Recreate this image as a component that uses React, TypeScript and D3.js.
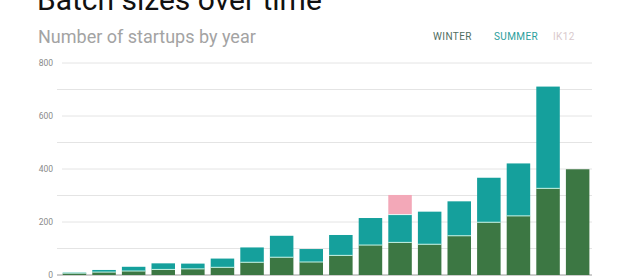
import React from "react";
import * as d3 from "d3";

// Startups per Y Combinator batch, by year
const years = [
  "2005", "2006", "2007", "2008", "2009", "2010", "2011", "2012", "2013",
  "2014", "2015", "2016", "2017", "2018", "2019", "2020", "2021", "2022",
];
const winter = [7, 11, 15, 21, 23, 29, 48, 67, 49, 74, 113, 123, 116, 148, 199, 223, 327, 399];
const summer = [2, 8, 16, 23, 20, 33, 56, 81, 49, 77, 102, 105, 123, 130, 168, 198, 384, 0];
const ik12 = [0, 0, 0, 0, 0, 0, 0, 0, 0, 0, 0, 74, 0, 0, 0, 0, 0, 0];

const yTicks = [0, 200, 400, 600, 800];
const gridValues = [100, 200, 300, 400, 500, 600, 700, 800];

const legendItems = [
  { label: "WINTER", color: "#4f6e5f" },
  { label: "SUMMER", color: "#2a9e9c" },
  { label: "IK12", color: "#d9c9cd" },
];

const W = 640;
const H = 279;
const FONT = "Roboto, 'Noto Sans', sans-serif";

const COLORS = {
  winter: "#3c7743",
  summer: "#15a09c",
  ik12: "#f3a8b8",
  divider: "#c4f2e3",
  grid: "#e4e4e4",
  tick: "#8a8a8a",
};

export default function App() {
  const x = d3
    .scaleBand<string>()
    .domain(years)
    .range([62.7, 589.4])
    .paddingInner(0.206)
    .paddingOuter(0);

  const y = d3.scaleLinear().domain([0, 800]).range([275, 63]);

  const rows = years.map((yr, i) => ({
    year: yr,
    w: winter[i],
    s: summer[i],
    k: ik12[i],
  }));

  return (
    <svg
      width={W}
      height={H}
      style={{ position: "fixed", left: 0, top: 0, background: "#fff" }}
      fontFamily={FONT}
    >
      <rect x={0} y={0} width={W} height={H} fill="#fff" />

      {/* title and subtitle */}
      <text x={37} y={10} fontSize={30} fill="#111">
        Batch sizes over time
      </text>
      <text x={38} y={43} fontSize={18} fill="#a3a3a3">
        Number of startups by year
      </text>

      {/* legend */}
      {legendItems.map((item, i) => {
        const xs = [433, 494, 553];
        return (
          <text
            key={item.label}
            x={xs[i]}
            y={40}
            fontSize={10}
            letterSpacing={0.4}
            fill={item.color}
          >
            {item.label}
          </text>
        );
      })}

      {/* gridlines */}
      {gridValues.map((v) => (
        <line
          key={v}
          x1={v % 200 === 0 ? 62 : 57}
          x2={592}
          y1={y(v)}
          y2={y(v)}
          stroke={COLORS.grid}
          strokeWidth={1}
        />
      ))}

      {/* y tick labels */}
      {yTicks.map((v) => (
        <text
          key={v}
          x={53}
          y={y(v) + 3}
          fontSize={8.5}
          textAnchor="end"
          fill={COLORS.tick}
        >
          {v}
        </text>
      ))}

      {/* baseline */}
      <line x1={57} x2={592} y1={y(0)} y2={y(0)} stroke="#9a9a9a" strokeWidth={1} />

      {/* stacked bars */}
      {rows.map((d) => {
        const bx = x(d.year) ?? 0;
        const bw = x.bandwidth();
        const top1 = y(d.w);
        const top2 = y(d.w + d.s);
        const top3 = y(d.w + d.s + d.k);
        return (
          <g key={d.year}>
            <rect x={bx} y={top1} width={bw} height={y(0) - top1} fill={COLORS.winter} />
            {d.s > 0 && (
              <rect x={bx} y={top2} width={bw} height={top1 - top2} fill={COLORS.summer} />
            )}
            {d.k > 0 && (
              <rect x={bx} y={top3} width={bw} height={top2 - top3} fill={COLORS.ik12} />
            )}
            {d.s > 0 && (
              <line
                x1={bx}
                x2={bx + bw}
                y1={top1}
                y2={top1}
                stroke={COLORS.divider}
                strokeWidth={1}
              />
            )}
            {d.k > 0 && (
              <line
                x1={bx}
                x2={bx + bw}
                y1={top2}
                y2={top2}
                stroke="#e9f7f5"
                strokeWidth={1}
              />
            )}
          </g>
        );
      })}
    </svg>
  );
}
